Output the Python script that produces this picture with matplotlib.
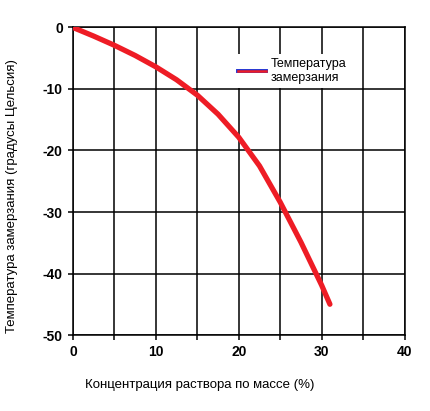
import matplotlib

matplotlib.use("Agg")
import matplotlib.pyplot as plt
from matplotlib.lines import Line2D
from matplotlib.legend_handler import HandlerTuple

plt.rcParams["font.family"] = ["Liberation Sans", "DejaVu Sans"]

# concentration by mass (%) and freezing temperature (°C)
concentration = [0, 2.5, 5, 7.5, 10, 12.5, 15, 17.5, 20, 22.5, 25, 27.5, 30, 31]
freeze_temp = [0, -1.4, -2.9, -4.55, -6.4, -8.5, -11.0, -14.1, -17.85, -22.5,
               -28.4, -34.9, -41.9, -45.0]

x_ticks = [0, 10, 20, 30, 40]
x_grid = [0, 5, 10, 15, 20, 25, 30, 35, 40]
y_ticks = [0, -10, -20, -30, -40, -50]

W, H = 430, 411
fig = plt.figure(figsize=(W / 100, H / 100), dpi=100)
ax = fig.add_axes([73 / W, 1 - 335 / H, (404.5 - 73) / W, (335 - 27.5) / H])

ax.plot(concentration, freeze_temp, color="#ee1c25", linewidth=3.8,
        solid_capstyle="round", solid_joinstyle="round", zorder=3)

ax.set_xlim(0, 40)
ax.set_ylim(-50, 0)
ax.set_xticks(x_grid)
ax.set_xticklabels([str(v) if v in x_ticks else "" for v in x_grid])
ax.set_yticks(y_ticks)
ax.set_yticklabels([str(v) for v in y_ticks])
ax.grid(True, color="black", linewidth=1.1)
ax.set_axisbelow(True)
for s in ax.spines.values():
    s.set_color("black")
    s.set_linewidth(1.1)
ax.tick_params(direction="out", length=3.5, width=1.1, color="black",
               labelsize=10, pad=3.8)
for lab in ax.get_xticklabels() + ax.get_yticklabels():
    lab.set_fontweight("bold")

fig.text(200 / W, 1 - 385 / H, "Концентрация раствора по массе (%)",
         ha="center", va="center", fontsize=9.5)
fig.text(12.5 / W, 1 - 196 / H, "Температура замерзания (градусы Цельсия)",
         ha="center", va="center", rotation=90, fontsize=9.5)

# legend handle: red line with a blue edge, like the original
h_blue = Line2D([], [], color="#1f2fd0", linewidth=2.8)
h_red = Line2D([], [], color="#ee1c25", linewidth=1.8)
leg = ax.legend([(h_blue, h_red)], ["Температура\nзамерзания"],
                handler_map={tuple: HandlerTuple(ndivide=1, pad=0)},
                loc="upper left", bbox_to_anchor=(228 / W, 1 - 48 / H),
                bbox_transform=fig.transFigure, frameon=True, fancybox=False,
                edgecolor="none", facecolor="white", framealpha=1,
                fontsize=9, handlelength=2.2, handletextpad=0.4,
                borderpad=0.3)
leg.set_zorder(5)

fig.savefig("out.png", dpi=100, facecolor="white")
